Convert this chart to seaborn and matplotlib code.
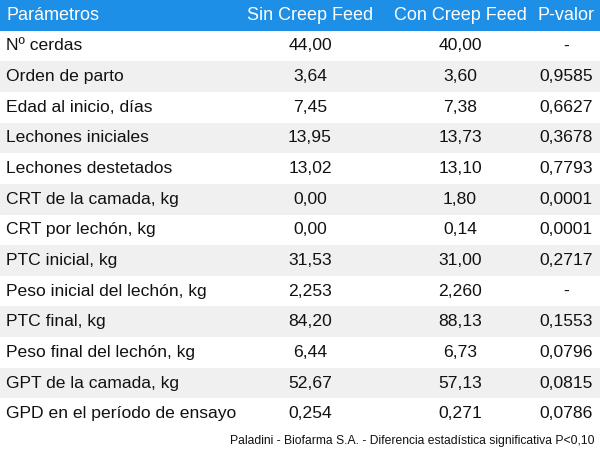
import numpy as np
import matplotlib
matplotlib.use("Agg")
import matplotlib.pyplot as plt
import seaborn as sns
from matplotlib.colors import ListedColormap

headers = ["Parámetros", "Sin Creep Feed", "Con Creep Feed", "P-valor"]
params = ["Nº cerdas", "Orden de parto", "Edad al inicio, días", "Lechones iniciales",
          "Lechones destetados", "CRT de la camada, kg", "CRT por lechón, kg",
          "PTC inicial, kg", "Peso inicial del lechón, kg", "PTC final, kg",
          "Peso final del lechón, kg", "GPT de la camada, kg", "GPD en el período de ensayo"]
sin_cf = ["44,00", "3,64", "7,45", "13,95", "13,02", "0,00", "0,00", "31,53", "2,253",
          "84,20", "6,44", "52,67", "0,254"]
con_cf = ["40,00", "3,60", "7,38", "13,73", "13,10", "1,80", "0,14", "31,00", "2,260",
          "88,13", "6,73", "57,13", "0,271"]
pval = ["-", "0,9585", "0,6627", "0,3678", "0,7793", "0,0001", "0,0001", "0,2717", "-",
        "0,1553", "0,0796", "0,0815", "0,0786"]
footnote = "Paladini - Biofarma S.A. - Diferencia estadística significativa P<0,10"

plt.rcParams["font.family"] = "Liberation Sans"
W, H = 600, 455
fig = plt.figure(figsize=(6, 4.55), dpi=100)
nrows = len(params) + 1
table_h = 429
ax = fig.add_axes([0, 1 - table_h / H, 1, table_h / H])
band = np.array([[0]] + [[1 + (i % 2)] for i in range(len(params))])
sns.heatmap(band, ax=ax, cmap=ListedColormap(["#1e8fe6", "#ffffff", "#f0f0f0"]),
            vmin=0, vmax=2, cbar=False, xticklabels=False, yticklabels=False)
ax.set_axis_off()

rh = table_h / nrows
xs = [6, 310, 460, 566]
def put(x, y, s, ha, color, size=12.6):
    fig.text(x / W, 1 - y / H, s, ha=ha, va="center", color=color, fontsize=size)

for j, h in enumerate(headers):
    put(xs[j], rh / 2, h, "left" if j == 0 else "center", "white", size=13)
for i in range(len(params)):
    y = rh * (i + 1.5)
    put(xs[0], y, params[i], "left", "#111111")
    put(xs[1], y, sin_cf[i], "center", "#111111")
    put(xs[2], y, con_cf[i], "center", "#111111")
    put(xs[3], y, pval[i], "center", "#111111")
put(595, 441, footnote, "right", "#111111", size=8.7)
fig.savefig("out.png", dpi=100)
